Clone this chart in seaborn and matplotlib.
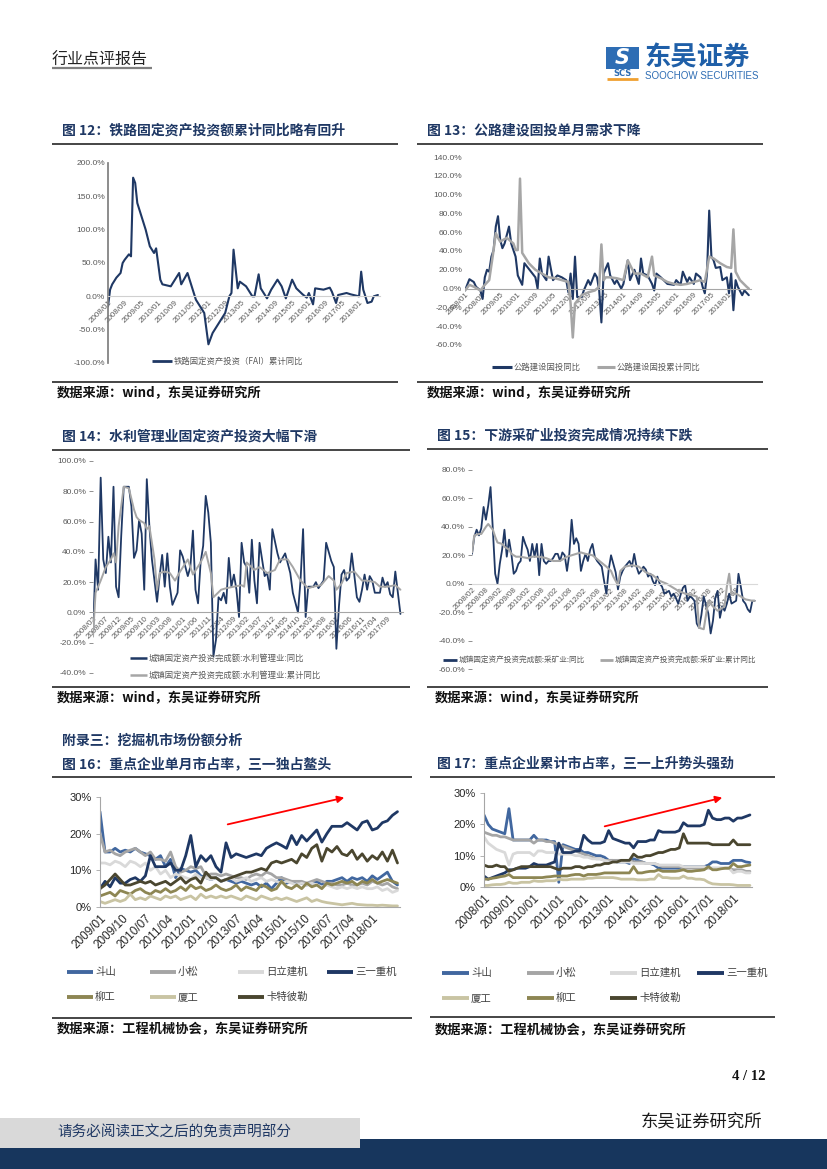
import numpy as np
import seaborn as sns
import matplotlib.pyplot as plt
from matplotlib.lines import Line2D
from matplotlib.patches import Rectangle, FancyArrowPatch

# ---------------- data ----------------
# fig 12: railway FAI cumulative yoy (month offset from 2008/01, %)
rail_pts = [(0, -15), (1, 10), (2, 18), (4, 28), (6, 35), (7, 50), (8, 55), (10, 63), (11, 60),
            (12, 178), (13, 170), (14, 140), (16, 120), (18, 100), (20, 75), (22, 65), (23, 72),
            (25, 25), (26, 18), (30, 15), (34, 35), (35, 18), (38, 35), (41, 5), (42, -5),
            (45, -20), (46, -25), (48, -72), (50, -55), (53, -40), (56, -25), (58, 0), (59, 5),
            (60, 70), (62, 12), (63, 22), (66, 15), (69, 0), (70, 0), (72, 33), (73, 12), (76, -3),
            (78, 10), (81, 25), (83, 15), (85, -3), (88, 25), (90, 12), (93, 3), (95, -2), (96, 5),
            (98, -12), (99, 12), (103, 10), (106, 13), (107, 7), (109, -10), (110, 2), (114, 5),
            (116, 3), (120, 0), (121, 37), (122, 10), (124, -10), (126, -8), (127, 0), (129, 2)]
rail_labels = ['2008/01', '2008/09', '2009/05', '2010/01', '2010/09', '2011/05', '2012/01', '2012/09',
               '2013/05', '2014/01', '2014/09', '2015/05', '2016/01', '2016/09', '2017/05', '2018/01']

# fig 13: highway FAI single-month yoy / cumulative yoy (month offset from 2008/01, %)
road_month_pts = [(0, -2), (2, 10), (4, 7), (5, 2), (7, -2), (8, -11), (9, 12), (10, 20), (11, 18),
                  (12, 34), (13, 41), (14, 66), (15, 77), (16, 52), (17, 43), (18, 48), (20, 66),
                  (21, 48), (23, 34), (24, 14), (26, 4), (27, 27), (29, 21), (32, 12), (33, 0),
                  (34, 32), (35, 16), (37, 9), (38, 34), (40, 9), (42, 14), (44, 12), (46, 9),
                  (47, -4), (48, 16), (49, -11), (50, 34), (51, -9), (53, -9), (54, -2), (56, 9),
                  (57, 4), (59, 16), (60, 12), (61, -2), (62, -36), (63, 16), (65, 27), (66, 14),
                  (68, 5), (69, 9), (71, 0), (72, 5), (74, 30), (75, 9), (77, 20), (79, 5), (80, 32),
                  (81, 16), (83, 14), (85, 5), (86, -2), (87, 16), (89, 12), (92, 5), (95, 4), (96, 9),
                  (98, 4), (99, 18), (101, 7), (102, 12), (104, 5), (105, 16), (107, 12), (108, 2),
                  (109, -5), (110, 16), (111, 83), (112, 34), (113, 30), (114, 22), (116, 23),
                  (117, 9), (119, 12), (120, -5), (121, 16), (122, -23), (123, 9), (124, 2),
                  (126, -7), (127, -2), (129, -7)]
road_cum_pts = [(0, -2), (2, 4), (4, 2), (7, -2), (9, 4), (11, 9), (13, 41), (14, 59), (15, 54),
                (16, 50), (19, 54), (22, 48), (23, 41), (24, 41), (25, 117), (26, 38), (29, 27),
                (32, 20), (35, 16), (38, 12), (41, 11), (44, 9), (47, 7), (48, -16), (49, -52),
                (50, -16), (53, -7), (56, -4), (59, -2), (61, 2), (62, 47), (63, 9), (64, 12),
                (66, 12), (69, 11), (72, 9), (74, 30), (77, 16), (80, 16), (83, 12), (85, 34),
                (86, 14), (89, 11), (92, 7), (95, 5), (98, 4), (101, 5), (104, 7), (107, 9),
                (109, 7), (111, 34), (113, 32), (116, 27), (119, 23), (121, 22), (122, 63),
                (123, 18), (125, 9), (128, 2), (129, 0)]

# fig 14: water conservancy FAI yoy / cumulative yoy (month offset from 2008/02, %)
water_month_pts = [(0, -15), (1, 35), (2, 15), (3, 89), (4, 35), (5, 26), (6, 50), (7, 33), (8, 83),
                   (9, 17), (10, 10), (11, 50), (12, 83), (14, 83), (15, 70), (16, 36), (17, 41),
                   (18, 61), (19, 52), (20, 15), (21, 88), (22, 57), (23, 35), (25, 7), (26, 24),
                   (27, 38), (28, 17), (29, 39), (30, 17), (31, 5), (33, 13), (34, 41), (35, 37),
                   (37, 24), (38, 30), (39, 54), (40, 15), (41, 6), (42, 33), (43, 44), (44, 77),
                   (45, 66), (46, 46), (47, -29), (48, -18), (49, 10), (50, 8), (51, 13), (52, 6),
                   (53, 36), (54, 17), (55, 25), (56, 15), (57, -3), (58, 46), (59, 33), (60, 30),
                   (61, 13), (62, 48), (63, 21), (64, 6), (65, 46), (66, 35), (67, 24), (68, 26),
                   (69, 15), (70, 55), (72, 39), (73, 33), (75, 39), (77, 26), (78, 13), (80, 0),
                   (81, 21), (82, 55), (83, -3), (84, 17), (86, 17), (87, 20), (88, 16), (90, 21),
                   (91, 46), (93, 34), (94, 30), (95, -24), (96, 4), (97, 25), (98, 28), (99, 21),
                   (100, 23), (101, 39), (103, 10), (104, 7), (105, 15), (106, 25), (107, 15),
                   (108, 24), (109, 21), (110, 13), (112, 13), (113, 23), (114, 17), (115, 20),
                   (116, 12), (117, 10), (118, 27), (119, 13), (120, -1)]
water_cum_pts = [(0, -16), (1, 13), (3, 21), (5, 30), (7, 35), (8, 39), (9, 33), (10, 57), (12, 83),
                 (14, 82), (16, 68), (17, 63), (18, 61), (20, 59), (21, 55), (22, 57), (24, 35),
                 (25, 15), (26, 26), (28, 27), (30, 26), (32, 21), (34, 27), (37, 35), (39, 25),
                 (42, 33), (44, 40), (46, 26), (47, 10), (50, 15), (52, 16), (55, 17), (58, 18),
                 (59, 17), (60, 33), (63, 28), (65, 30), (68, 26), (71, 28), (73, 35), (76, 35),
                 (78, 30), (81, 21), (84, 16), (86, 17), (89, 18), (92, 24), (94, 21), (95, 15),
                 (97, 19), (99, 26), (102, 27), (105, 21), (107, 21), (110, 20), (112, 17),
                 (115, 17), (118, 18), (120, 15)]
water_labels = ['2008/02', '2008/07', '2008/12', '2009/05', '2009/10', '2010/03', '2010/08', '2011/01',
                '2011/06', '2011/11', '2012/04', '2012/09', '2013/02', '2013/07', '2013/12', '2014/05',
                '2014/10', '2015/03', '2015/08', '2016/01', '2016/06', '2016/11', '2017/04', '2017/09']

# fig 15: mining FAI yoy, monthly from 2008/02 (%)
mine_month = [21, 33, 38, 34, 39, 54, 45, 55, 68, 38,
              7, 0, 14, 24, 38, 19, 31, 21, 7, 9,
              14, 16, 33, 28, 24, 16, 28, 19, 28, 6,
              28, 16, 14, 16, 16, 18, 21, 21, 16, 22,
              20, 9, 21, 45, 28, 32, 28, 9, 16, 21,
              16, 24, 28, 19, 16, 14, 12, 2, -7, 10,
              20, 14, 8, -4, 5, 9, 12, 14, 16, 12,
              21, 12, 7, 9, 12, 10, 5, 7, 2, -1,
              5, 0, -2, -7, -6, -5, -9, -7, -10, -14,
              -8, -3, -1, -12, -9, -10, -12, -28, -31, -22,
              -9, -15, -21, -35, -26, -10, -5, -24, -16, -19,
              -14, -7, -14, -13, -12, 7, -2, -12, -14, -18,
              -20, -12, -12]
mine_cum_pts = [(0, 22), (1, 34), (3, 35), (4, 35), (6, 40), (7, 42), (9, 38), (10, 33), (11, 29),
                (13, 28), (14, 26), (16, 24), (17, 21), (19, 19), (21, 19), (24, 18), (26, 19),
                (29, 19), (32, 18), (35, 16), (38, 16), (41, 19), (43, 20), (45, 21), (47, 22),
                (49, 21), (52, 20), (55, 16), (58, 12), (60, 9), (61, 5), (63, -1), (64, 9),
                (66, 12), (69, 13), (72, 12), (75, 8), (78, 6), (81, 2), (84, 0), (86, -2),
                (89, -5), (92, -7), (95, -8), (97, -9), (98, -31), (100, -32), (102, -12),
                (104, -16), (106, -19), (109, -16), (110, -2), (111, 7), (112, -7), (114, -7),
                (116, -9), (118, -11), (121, -12), (122, -12)]
mine_labels = ['2008/02', '2008/08', '2009/02', '2009/08', '2010/02', '2010/08', '2011/02', '2011/08',
               '2012/02', '2012/08', '2013/02', '2013/08', '2014/02', '2014/08', '2015/02', '2015/08',
               '2016/02', '2016/08', '2017/02', '2017/08']

# fig 16: excavator single-month market share, every 2 months from 2009/01 (%)
doosan16 = [26, 15, 15, 16, 15, 15.5, 15, 16, 15, 14.5, 14, 13, 14, 11, 13, 8, 10.5, 10, 9.5, 10,
            8.5, 8, 7.5, 8, 7, 7.5, 7, 6.5, 7, 6.5, 6, 6.5, 5.5, 6.5, 5, 6.5, 8, 6.5, 7, 6,
            6.5, 6, 6.5, 7, 6, 7, 7, 7.5, 8, 7, 8, 7.5, 8, 7, 8.5, 7.5, 8.5, 9.5, 7, 6]
komatsu16 = [20, 15, 15.5, 14.5, 14, 15, 15.5, 16, 15, 14, 15, 13, 13, 12.5, 15, 11, 9.5, 10, 11, 10.5,
             11, 8.5, 9, 9, 8.5, 9, 8.5, 8, 8, 7.5, 8.5, 9, 8.5, 9.5, 9, 8, 8, 7.5, 7, 7,
             7, 6.5, 7, 7.5, 7, 6.5, 6.5, 6, 6, 6.5, 6, 6, 6.5, 6, 7, 6.5, 6, 6.5, 5.5, 5]
hitachi16 = [12, 12, 11.5, 12.5, 12, 11, 12.5, 12, 11, 12, 10, 11, 9, 10, 8, 9, 8.5, 8, 7.5, 9,
             8, 8, 7.5, 8, 7, 7.5, 8, 7, 7.5, 8, 7, 7.5, 8, 7, 7.5, 7, 6.5, 7, 6.5, 6,
             6.5, 6, 6.5, 6, 5.5, 6, 5.5, 5, 5.5, 5, 5.5, 5, 5.5, 5, 5, 5.5, 4.5, 5, 4, 4.5]
sany16 = [5, 7, 5.5, 8, 6.5, 6.5, 7.5, 8, 7, 8.5, 14, 11, 11, 11, 12, 10, 10, 14, 19.5, 11,
          14, 12.5, 14, 11, 9.5, 17.5, 13.5, 14.5, 14, 13.5, 14, 14.5, 14, 16, 16.8, 17.5, 16.8, 16, 19.5, 17,
          19.5, 18, 19.5, 21, 17.7, 20, 22, 22, 22, 23, 22, 21, 23, 23.5, 21, 21.5, 23, 23.5, 25, 26]
liugong16 = [3, 3.5, 4, 3, 4.5, 4, 3.5, 4.5, 5, 4, 3.5, 4.5, 4, 5, 4, 4.5, 5.5, 4.5, 6, 5,
             5.5, 4.5, 5, 6, 5, 4.5, 5, 6, 4.5, 5.5, 5, 4.5, 6, 5.5, 4.5, 5, 7, 5.5, 5, 6,
             5, 6.5, 5.5, 6, 5, 6.5, 6, 6.5, 7, 6.5, 7, 6, 7, 6.5, 7.5, 6.5, 7, 7.5, 7, 6.5]
xiagong16 = [1.5, 1, 1.5, 2, 1.5, 2, 3.5, 2, 2.5, 2, 3, 2.5, 2, 3, 2.5, 3, 2, 2.5, 3, 2,
             3.5, 2.5, 3, 2.5, 3, 2.5, 3, 2.5, 2, 3, 2.5, 2, 3, 2.5, 2, 2.5, 2, 2.5, 2, 1.5,
             2, 2.5, 1.5, 2, 1.5, 1.2, 1, 0.8, 0.6, 0.8, 1, 0.7, 0.6, 0.5, 0.5, 0.4, 0.5, 0.4, 0.3, 0.3]
cat16 = [5, 6, 7.5, 9, 7.5, 6, 6, 6.5, 7, 6.5, 7, 6, 6.5, 7, 6, 7, 8, 6.5, 7.5, 8,
         6.5, 9.5, 8, 8, 7, 7.5, 8, 8.5, 9, 9.5, 9.5, 10, 10.5, 10, 12, 12.5, 12, 12.5, 13, 12,
         14.5, 13.5, 16, 17, 12.5, 16, 15, 16.5, 14.5, 14, 15.5, 13, 14.5, 12.5, 14, 13, 15, 12.5, 15.5, 12]
labels16 = ['2009/01', '2009/10', '2010/07', '2011/04', '2012/01', '2012/10', '2013/07',
            '2014/04', '2015/01', '2015/10', '2016/07', '2017/04', '2018/01']

# fig 17: excavator cumulative market share, every 2 months from 2008/01 (%)
doosan17 = [23, 20, 18.5, 18, 17.5, 17, 25, 15, 15, 15, 15, 15, 16.5, 15, 15, 15, 14.5, 14.5,
            1.5, 13.5, 13, 12.5, 12, 12, 11, 11, 10.5, 10, 10, 9.5, 8.5, 8.5, 8, 8, 8, 7.5,
            9, 8.5, 8, 7.5, 7.5, 7, 6, 6, 6, 6, 6, 6, 6.5, 6.5, 6.5, 6.5, 6.5, 6.5,
            7, 8, 8, 7.5, 7.5, 7.5, 8.5, 8.5, 8.5, 8, 7.8]
komatsu17 = [17.5, 17, 16.5, 16.5, 16, 16, 15.5, 15, 15, 15, 15, 15, 14, 15, 15, 14.5, 14.5, 14,
             13.5, 13, 12.5, 12, 11.5, 11, 10.5, 10, 9.5, 9, 9, 8.5, 8.5, 8.5, 8.5, 8.5, 8.5, 8.5,
             8, 8, 8, 7.5, 7.5, 7.5, 7, 6.5, 6.5, 6.5, 6.5, 6.5, 6, 6, 6, 6, 6, 6,
             6, 6, 6, 6, 6, 6, 5.5, 5.5, 5.5, 5, 5]
hitachi17 = [16, 14, 13, 12, 11.5, 11, 7, 10.5, 11, 11, 11, 11, 10, 11.5, 11.5, 11, 11, 11,
             10.5, 10.5, 10.5, 10.5, 10, 10, 9.5, 9.5, 9, 9, 9, 8.5, 8, 8, 8, 8, 8, 8,
             7.5, 7.5, 7.5, 7.5, 7.5, 7.5, 7, 7, 7, 7, 7, 7, 6.5, 6.5, 6.5, 6.5, 6.5, 6.5,
             6, 6, 6, 6, 6, 6, 4.5, 5, 5, 4.5, 4.5]
sany17 = [3.5, 2.5, 3, 3.5, 4, 4.5, 5.5, 5.5, 6, 6, 6, 6.5, 7.5, 7, 7, 7, 7.5, 8,
          14, 11, 11, 11, 11.5, 11.5, 16.5, 15, 14, 14, 14, 14.5, 18, 15.5, 15, 14.5, 14, 14,
          12.5, 14.5, 14.5, 14.5, 15, 15, 18, 17.5, 17.5, 17.5, 17.5, 18, 20.5, 19.5, 19.5, 19.5, 19.5, 20,
          24.5, 22, 21.5, 21.5, 22, 22, 21, 22, 22, 22.5, 23]
liugong17 = [2.5, 2.5, 2.8, 3, 3.3, 3.5, 4, 3, 3, 3, 3, 3, 3, 3, 3, 3.2, 3.3, 3.5,
             3.5, 3.5, 3.5, 3.8, 4, 4, 3.5, 4, 4, 4, 4.2, 4.5, 4.5, 4.5, 4.5, 4.5, 4.5, 4.5,
             6.5, 4.5, 4.5, 4.8, 5, 5, 5.5, 5, 5, 5, 5, 5.2, 5.5, 5, 5, 5.2, 5.3, 5.5,
             6.5, 5.5, 5.5, 5.8, 6, 6, 7.5, 6.5, 6.5, 6.8, 7]
xiagong17 = [0.5, 0.5, 0.7, 0.8, 0.8, 1, 1.5, 1.2, 1.2, 1.5, 1.5, 1.5, 2, 1.8, 1.8, 2, 2, 2,
             2.5, 2.3, 2.3, 2.5, 2.5, 2.5, 2.5, 2.8, 2.8, 3, 3, 3, 3, 3, 2.8, 2.5, 2.5, 2.5,
             2.5, 2.3, 2.3, 2.3, 2.5, 2.5, 4, 3, 3, 2.8, 2.8, 2.8, 3.5, 2.8, 2.8, 2.5, 2.5, 2.3,
             1.5, 1, 0.9, 0.8, 0.8, 0.8, 0.7, 0.5, 0.5, 0.5, 0.5]
cat17 = [7, 6.5, 6.5, 7, 6.5, 6.5, 5, 5.5, 6, 6.5, 6.5, 6.5, 6.5, 6.5, 6.5, 6.5, 6.5, 6,
         5.5, 6, 6, 6, 6.5, 6.5, 6, 6.5, 6.5, 7, 7, 7.5, 7.5, 8, 8, 8.5, 8.5, 8.5,
         10.5, 9.5, 9.5, 10, 10, 10.5, 11, 11, 11.5, 12, 12, 12.5, 17, 14, 14, 14, 14, 14,
         14, 13.5, 13.5, 13.5, 13.5, 13.5, 15, 13.5, 13.5, 13.5, 13.5]
labels17 = ['2008/01', '2009/01', '2010/01', '2011/01', '2012/01', '2013/01',
            '2014/01', '2015/01', '2016/01', '2017/01', '2018/01']

# ---------------- style ----------------
sns.set_theme(style='white')
plt.rcParams['font.family'] = ['Noto Sans CJK SC', 'DejaVu Sans']
plt.rcParams['axes.unicode_minus'] = False

W, H = 827, 1169
NAVY = '#1f3864'
GRAY = '#a6a6a6'
TXT = '#595959'
C16 = {'斗山': '#41679f', '小松': '#a5a5a5', '日立建机': '#d9d9d9', '三一重机': '#1f3864',
       '柳工': '#8d8653', '厦工': '#c9c4a3', '卡特彼勒': '#4a462f'}

fig = plt.figure(figsize=(W / 100, H / 100), dpi=100)


def fx(x):
    return x / W


def fy(y):
    return 1 - y / H


def page_axes(x0, y0, x1, y1):
    ax = fig.add_axes([fx(x0), fy(y1), (x1 - x0) / W, (y1 - y0) / H])
    ax.patch.set_alpha(0)
    return ax


def ptext(x, y, s, **kw):
    kw.setdefault('va', 'center')
    fig.text(fx(x), fy(y), s, **kw)


def hline(x0, x1, y, color='#262626', lw=1.2):
    fig.add_artist(Line2D([fx(x0), fx(x1)], [fy(y), fy(y)], color=color, lw=lw,
                          transform=fig.transFigure, solid_capstyle='butt'))


def legend_item(x, y, color, label, lw=2.0, length=20, fs=6, tc=TXT):
    hline(x, x + length, y, color=color, lw=lw)
    ptext(x + length + 2, y, label, fontsize=fs, color=tc)


def title_block(x, y, s):
    ptext(x, y, s, fontsize=10, fontweight='bold', color=NAVY)


def source_text(x, y, s):
    ptext(x, y, s, fontsize=9.5, fontweight='bold', color='#111111')


def draw_pts(ax, pts, color, lw):
    m, v = zip(*pts)
    sns.lineplot(x=list(m), y=list(v), ax=ax, color=color, lw=lw, legend=False)


def small_axes(ax, xlim, ylim, yticks, xpos, xlabels, yspine=False, ytick_len=0, zero_color='#a6a6a6'):
    # spine position first: moving the spine resets tick label styling
    ax.spines['bottom'].set_position(('data', 0))
    ax.set_xlim(*xlim)
    ax.set_ylim(*ylim)
    ax.set_yticks(yticks)
    ax.set_yticklabels([f'{t:.1f}%' for t in yticks], fontsize=6, color=TXT,
                       family=['Liberation Sans'])
    ax.set_xticks(xpos)
    ax.set_xticklabels(xlabels, rotation=45, ha='right', rotation_mode='anchor',
                       fontsize=5.8, color=TXT, family=['Liberation Sans'])
    ax.spines['top'].set_visible(False)
    ax.spines['right'].set_visible(False)
    ax.spines['left'].set_visible(yspine)
    ax.spines['left'].set_color('#7f7f7f')
    ax.spines['bottom'].set_color(zero_color)
    ax.spines['bottom'].set_linewidth(0.8)
    ax.tick_params(axis='y', length=ytick_len, width=0.6, color='#7f7f7f', pad=2, left=True)
    ax.tick_params(axis='x', length=0, pad=2, bottom=True)
    ax.set_xlabel('')
    ax.set_ylabel('')
    ax.grid(False)


# ---------------- header ----------------
ptext(52, 60, '行业点评报告', fontsize=11.5, color='#222222')
hline(52, 152, 68, color='#7f7f7f', lw=1.6)
fig.add_artist(Rectangle((fx(606), fy(69)), 33 / W, 22 / H, transform=fig.transFigure,
                         color='#2e6db4', lw=0))
ptext(622, 58, 'S', fontsize=15, fontweight='bold', style='italic', color='white', ha='center',
      family=['DejaVu Sans'])
ptext(622, 74, 'SCS', fontsize=6, fontweight='bold', color='#2e6db4', ha='center', family=['DejaVu Sans'])
hline(607, 638, 79, color='#f0a030', lw=2)
ptext(644, 58, '东吴证券', fontsize=19, fontweight='bold', color='#1f5fa8')
ptext(645, 76, 'SOOCHOW SECURITIES', fontsize=7, color='#2e6db4', family=['Liberation Sans'])

# ---------------- fig 12 ----------------
title_block(62, 131, '图 12：铁路固定资产投资额累计同比略有回升')
hline(52, 398, 144)
ax12 = page_axes(108, 163, 380, 363)
draw_pts(ax12, rail_pts, NAVY, 1.5)
small_axes(ax12, (0, 130), (-100, 200), [-100, -50, 0, 50, 100, 150, 200],
           np.arange(0, 121, 8), rail_labels, yspine=True, ytick_len=0, zero_color='#d0d0d0')
legend_item(152, 361, NAVY, '铁路固定资产投资（FAI）累计同比', lw=2, length=20)
hline(52, 398, 382)
source_text(57, 393, '数据来源：wind，东吴证券研究所')

# ---------------- fig 13 ----------------
title_block(427, 131, '图 13：公路建设固投单月需求下降')
hline(417, 763, 144)
ax13 = page_axes(465, 157, 751, 345)
draw_pts(ax13, road_month_pts, NAVY, 1.5)
draw_pts(ax13, road_cum_pts, GRAY, 1.8)
small_axes(ax13, (0, 130), (-60, 140), list(range(-60, 141, 20)),
           np.arange(0, 121, 8), rail_labels, zero_color='#a6a6a6')
legend_item(492, 367, NAVY, '公路建设固投同比', lw=2.2, length=20)
legend_item(597, 367, GRAY, '公路建设固投累计同比', lw=2.2, length=18)
hline(417, 763, 382)
source_text(427, 393, '数据来源：wind，东吴证券研究所')

# ---------------- fig 14 ----------------
title_block(62, 437, '图 14：水利管理业固定资产投资大幅下滑')
hline(52, 410, 450)
ax14 = page_axes(93, 461, 403, 673)
draw_pts(ax14, water_month_pts, NAVY, 1.3)
draw_pts(ax14, water_cum_pts, GRAY, 1.4)
small_axes(ax14, (0, 121), (-40, 100), list(range(-40, 101, 20)),
           np.arange(0, 116, 5), water_labels, ytick_len=3, zero_color='#a6a6a6')
legend_item(130, 658, NAVY, '城镇固定资产投资完成额:水利管理业:同比', lw=1.8, length=17)
legend_item(130, 675, GRAY, '城镇固定资产投资完成额:水利管理业:累计同比', lw=1.8, length=17)
hline(52, 410, 687)
source_text(57, 698, '数据来源：wind，东吴证券研究所')

# ---------------- fig 15 ----------------
title_block(437, 436, '图 15：下游采矿业投资完成情况持续下跌')
hline(427, 768, 449)
ax15 = page_axes(472, 470, 757, 669)
sns.lineplot(x=np.arange(len(mine_month)), y=mine_month, ax=ax15, color=NAVY, lw=1.3, legend=False)
draw_pts(ax15, mine_cum_pts, GRAY, 1.5)
small_axes(ax15, (0, 123), (-60, 80), list(range(-60, 81, 20)),
           np.arange(0, 115, 6), mine_labels, ytick_len=3, zero_color='#d9d9d9')
legend_item(443, 660, NAVY, '城镇固定资产投资完成额:采矿业:同比', lw=2, length=14, fs=5.5)
legend_item(600, 660, GRAY, '城镇固定资产投资完成额:采矿业:累计同比', lw=2, length=13, fs=5.5)
hline(427, 768, 687)
source_text(435, 698, '数据来源：wind，东吴证券研究所')


# ---------------- fig 16 / 17 ----------------
def share_axes(ax, xlim, xpos, xlabels):
    ax.set_xlim(*xlim)
    ax.set_ylim(0, 30)
    ax.set_yticks([0, 10, 20, 30])
    ax.set_yticklabels(['0%', '10%', '20%', '30%'], fontsize=8, color='#262626',
                       family=['Liberation Sans'])
    ax.set_xticks(xpos)
    ax.set_xticklabels(xlabels, rotation=45, ha='right', rotation_mode='anchor',
                       fontsize=8.5, color='#262626', family=['Liberation Sans'])
    for s in ['top', 'right']:
        ax.spines[s].set_visible(False)
    for s in ['left', 'bottom']:
        ax.spines[s].set_color('#a6a6a6')
        ax.spines[s].set_linewidth(0.8)
    ax.tick_params(axis='y', length=3, width=0.6, color='#a6a6a6', pad=3, left=True)
    ax.tick_params(axis='x', length=0, pad=4)
    ax.set_xlabel('')
    ax.set_ylabel('')
    ax.grid(False)


ptext(62, 741, '附录三：挖掘机市场份额分析', fontsize=10, fontweight='bold', color=NAVY)
title_block(62, 764, '图 16：重点企业单月市占率，三一独占鳌头')
hline(52, 412, 777)
ax16 = page_axes(100, 797, 400, 907)
x16 = np.arange(0, 2 * len(sany16), 2)
series16 = [('斗山', doosan16), ('小松', komatsu16), ('日立建机', hitachi16), ('三一重机', sany16),
            ('柳工', liugong16), ('厦工', xiagong16), ('卡特彼勒', cat16)]
for name, vals in series16:
    sns.lineplot(x=x16, y=vals, ax=ax16, color=C16[name], lw=2.0, legend=False)
share_axes(ax16, (0, 119), np.arange(0, 109, 9), labels16)
fig.add_artist(FancyArrowPatch((fx(225), fy(825)), (fx(347), fy(797)), transform=fig.transFigure,
                               arrowstyle='-|>', mutation_scale=10, color='#ff0000', lw=1.3))
for name, (lx, ly) in zip(['斗山', '小松', '日立建机', '三一重机', '柳工', '厦工', '卡特彼勒'],
                          [(67, 972), (150, 972), (238, 972), (327, 972), (67, 997), (150, 997), (238, 997)]):
    legend_item(lx, ly, C16[name], name, lw=2.8, length=26, fs=7.5, tc='#404040')
hline(52, 412, 1018)
source_text(57, 1029, '数据来源：工程机械协会，东吴证券研究所')

title_block(437, 763, '图 17：重点企业累计市占率，三一上升势头强劲')
hline(430, 775, 777)
ax17 = page_axes(484, 793, 752, 887)
x17 = np.arange(0, 2 * len(sany17), 2)
series17 = [('斗山', doosan17), ('小松', komatsu17), ('日立建机', hitachi17), ('三一重机', sany17),
            ('厦工', xiagong17), ('柳工', liugong17), ('卡特彼勒', cat17)]
for name, vals in series17:
    sns.lineplot(x=x17, y=vals, ax=ax17, color=C16[name], lw=2.0, legend=False)
share_axes(ax17, (0, 129), np.arange(0, 121, 12), labels17)
fig.add_artist(FancyArrowPatch((fx(602), fy(827)), (fx(725), fy(797)), transform=fig.transFigure,
                               arrowstyle='-|>', mutation_scale=10, color='#ff0000', lw=1.3))
for name, (lx, ly) in zip(['斗山', '小松', '日立建机', '三一重机', '厦工', '柳工', '卡特彼勒'],
                          [(442, 973), (527, 973), (610, 973), (697, 973), (442, 998), (527, 998), (610, 998)]):
    legend_item(lx, ly, C16[name], name, lw=2.8, length=27, fs=7.5, tc='#404040')
hline(430, 775, 1017)
source_text(435, 1030, '数据来源：工程机械协会，东吴证券研究所')

# ---------------- footer ----------------
ptext(766, 1076, '4 / 12', fontsize=10.5, fontweight='bold', ha='right', color='#111111',
      family=['Liberation Serif'])
ptext(762, 1121, '东吴证券研究所', fontsize=12.5, ha='right', color='#1a1a1a')
fig.add_artist(Rectangle((0, fy(1148)), 360 / W, 30 / H, transform=fig.transFigure,
                         color='#d9d9d9', lw=0))
fig.add_artist(Rectangle((fx(360), fy(1148)), (W - 360) / W, 9 / H, transform=fig.transFigure,
                         color='#17365d', lw=0))
fig.add_artist(Rectangle((0, 0), 1, 21 / H, transform=fig.transFigure, color='#17365d', lw=0))
ptext(57, 1133, '请务必阅读正文之后的免责声明部分', fontsize=10.5, color='#1f3864')

fig.savefig('out.png', dpi=100)
